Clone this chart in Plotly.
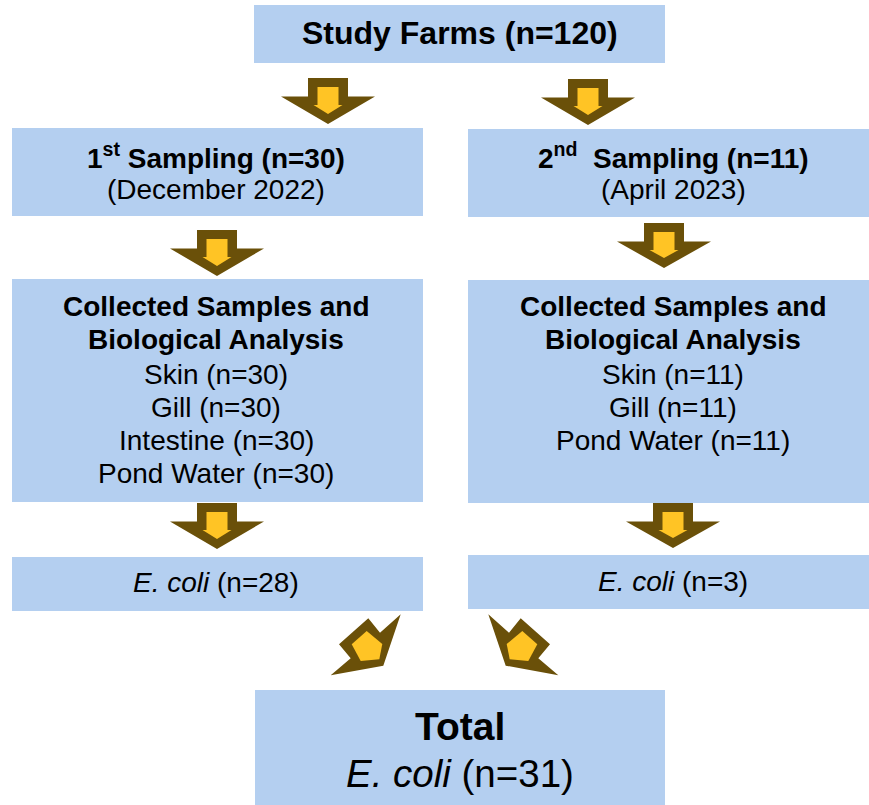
import plotly.graph_objects as go

# ---- content (text) ----
top_label = ["Study Farms (n=120)"]
left_sampling = ["1<sup>st</sup> Sampling (n=30)", "(December 2022)"]
right_sampling = ["2<sup>nd</sup>\u00a0 Sampling (n=11)", "(April 2023)"]
analysis_head = ["Collected Samples and", "Biological Analysis"]
left_samples = ["Skin (n=30)", "Gill (n=30)", "Intestine (n=30)", "Pond Water (n=30)"]
right_samples = ["Skin (n=11)", "Gill (n=11)", "Pond Water (n=11)"]
left_result = ["<i>E. coli</i> (n=28)"]
right_result = ["<i>E. coli</i> (n=3)"]
total_label = ["Total", "<i>E. coli</i> (n=31)"]

# ---- styling / layout ----
W, H = 869, 805
BOX = "#B4CFF0"
BROWN = "#6A5009"
GOLD = "#FFC425"
FONT = "Liberation Sans, Arial, sans-serif"

boxes = [  # x0, y0, x1, y1
    (254, 5, 665, 63),
    (12, 128, 423, 216),
    (468, 129, 880, 217),
    (12, 279, 423, 502),
    (468, 280, 880, 503),
    (12, 557, 423, 611),
    (468, 555, 880, 609),
    (255, 690, 665, 810),
]

down_arrows = [  # cx, top, tip
    (328, 78, 124),
    (588, 79, 125),
    (217, 230, 276),
    (664, 223, 268),
    (217, 503, 549),
    (673, 503, 548),
]

diag_outer = [(339, 644.3), (368.3, 618.3), (380, 632.7), (400.7, 614.3),
              (383.3, 665.7), (330.7, 675.3), (350.7, 658.3)]
diag_inner = [(351.7, 644.3), (366.7, 631), (382.3, 644), (379.3, 659.3), (360.7, 661)]
MIRROR = 889


def path(pts):
    return "M " + " L ".join(f"{x},{y}" for x, y in pts) + " Z"


shapes = []
for x0, y0, x1, y1 in boxes:
    shapes.append(dict(type="rect", x0=x0, y0=y0, x1=x1, y1=y1,
                       fillcolor=BOX, line=dict(width=0), layer="below"))

for cx, top, tip in down_arrows:
    hy = top + 18.5
    outer = [(cx - 20, top), (cx + 20, top), (cx + 20, hy), (cx + 47, hy),
             (cx, tip), (cx - 47, hy), (cx - 20, hy)]
    it, ih, itip = top + 9, hy + 8.5, tip - 10
    inner = [(cx - 10.5, it), (cx + 10.5, it), (cx + 10.5, ih), (cx + 14.5, ih),
             (cx, itip), (cx - 14.5, ih), (cx - 10.5, ih)]
    shapes.append(dict(type="path", path=path(outer), fillcolor=BROWN, line=dict(width=0)))
    shapes.append(dict(type="path", path=path(inner), fillcolor=GOLD, line=dict(width=0)))

for pts_o, pts_i in [(diag_outer, diag_inner),
                     ([(MIRROR - x, y) for x, y in diag_outer],
                      [(MIRROR - x, y) for x, y in diag_inner])]:
    shapes.append(dict(type="path", path=path(pts_o), fillcolor=BROWN, line=dict(width=0)))
    shapes.append(dict(type="path", path=path(pts_i), fillcolor=GOLD, line=dict(width=0)))

annotations = []


def add_lines(lines, cx, ys, size, bold_n=0):
    for i, (t, y) in enumerate(zip(lines, ys)):
        txt = f"<b>{t}</b>" if i < bold_n else t
        annotations.append(dict(x=cx, y=y, text=txt, showarrow=False,
                                xanchor="center", yanchor="middle",
                                font=dict(family=FONT, size=size, color="black")))


LCX, RCX = 216, 673
add_lines(top_label, 460, [33], 32, bold_n=1)
add_lines(left_sampling, LCX, [156, 189], 28, bold_n=1)
add_lines(right_sampling, RCX, [156, 189], 28, bold_n=1)
add_lines(analysis_head + left_samples, LCX, [306, 339, 374, 407, 440, 473], 28, bold_n=2)
add_lines(analysis_head + right_samples, RCX, [306, 339, 374, 407, 440], 28, bold_n=2)
add_lines(left_result, LCX, [582], 28)
add_lines(right_result, RCX, [581], 28)
add_lines(total_label[:1], 460, [726], 39, bold_n=1)
add_lines(total_label[1:], 460, [773], 38.5)

fig = go.Figure()
fig.add_trace(go.Scatter(x=[0, W], y=[0, H], mode="markers",
                         marker=dict(opacity=0), hoverinfo="skip", showlegend=False))
fig.update_layout(
    width=W, height=H, margin=dict(l=0, r=0, t=0, b=0),
    paper_bgcolor="white", plot_bgcolor="white",
    xaxis=dict(range=[0, W], visible=False, fixedrange=True),
    yaxis=dict(range=[H, 0], visible=False, fixedrange=True),
    shapes=shapes, annotations=annotations, showlegend=False,
)
fig.write_html("out.html", config={"displayModeBar": False})

with open("out.html", encoding="utf-8") as f:
    html = f.read()
html = html.replace("<body>", "<body style=\"margin:0;padding:0;overflow:hidden\">", 1)
with open("out.html", "w", encoding="utf-8") as f:
    f.write(html)
